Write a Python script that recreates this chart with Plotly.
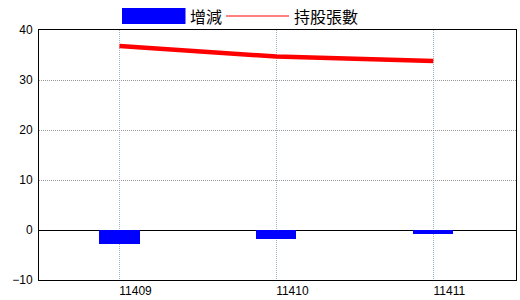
import plotly.graph_objects as go

categories = ["11409", "11410", "11411"]
change_values = [-2.85, -1.8, -0.85]
holding_values = [36.8, 34.7, 33.8]
y_ticks = [-10, 0, 10, 20, 30, 40]
legend_labels = ["增減", "持股張數"]

x_pos = list(range(len(categories)))

fig = go.Figure()
fig.add_trace(go.Bar(
    x=x_pos, y=change_values, name=legend_labels[0],
    marker=dict(color="#0000FF", line=dict(width=0)), width=0.255,
    showlegend=False,
))
fig.add_trace(go.Scatter(
    x=x_pos, y=holding_values, name=legend_labels[1], mode="lines",
    line=dict(color="#FF0000", width=4.5), showlegend=False,
))

W, H = 520, 300
L, R, T, B = 39, 4, 30, 20
pw, ph = W - L - R, H - T - B

def px(x):
    return (x - L) / pw

def py(y):
    return (H - B - y) / ph

# manual legend
fig.add_shape(type="rect", xref="paper", yref="paper",
              x0=px(122), x1=px(185.5), y0=py(24), y1=py(8),
              fillcolor="#0000FF", line=dict(width=0))
fig.add_shape(type="line", xref="paper", yref="paper",
              x0=px(226), x1=px(289), y0=py(16), y1=py(16),
              line=dict(color="#FF0000", width=1))
fig.add_annotation(xref="paper", yref="paper", x=px(188), y=py(16.5),
                   xanchor="left", yanchor="middle", showarrow=False,
                   text=legend_labels[0],
                   font=dict(family="Noto Sans CJK TC", size=16, color="#000"))
fig.add_annotation(xref="paper", yref="paper", x=px(292), y=py(16.5),
                   xanchor="left", yanchor="middle", showarrow=False,
                   text=legend_labels[1],
                   font=dict(family="Noto Sans CJK TC", size=16, color="#000"))

fig.update_layout(
    width=W, height=H,
    margin=dict(l=L, r=R, t=T, b=B, pad=0, autoexpand=False),
    paper_bgcolor="white", plot_bgcolor="white",
    showlegend=False, bargap=0,
    font=dict(family="Liberation Sans", size=12, color="#000"),
)
fig.update_xaxes(
    range=[-0.513, 2.527], tickmode="array", tickvals=x_pos, ticktext=categories,
    showgrid=True, gridcolor="#9fb3c6", griddash="1px,1px", gridwidth=1,
    showline=True, mirror=True, linecolor="#000", linewidth=1,
    ticks="", zeroline=False, ticklabelshift=16, ticklabelstandoff=0,
    automargin=False,
    tickfont=dict(family="Liberation Sans Narrow, Liberation Sans", size=12, color="#000"),
)
fig.update_yaxes(
    range=[-10, 40], tickmode="array", tickvals=y_ticks,
    showgrid=True, gridcolor="#999999", griddash="1px,1px", gridwidth=1,
    showline=True, mirror=True, linecolor="#000", linewidth=1,
    zeroline=True, zerolinecolor="#000", zerolinewidth=1,
    ticks="", ticklabelstandoff=3, automargin=False,
    tickfont=dict(family="Liberation Sans", size=12, color="#000"),
)

fig.write_html("out.html")
